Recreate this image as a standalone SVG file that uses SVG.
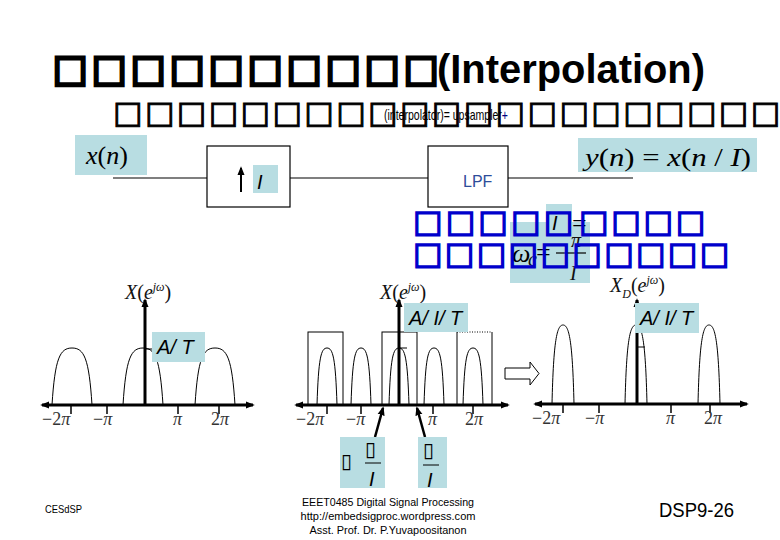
<svg xmlns="http://www.w3.org/2000/svg" width="780" height="540" viewBox="0 0 780 540">
<defs>
<style>
.tofuT{font-family:"DejaVu Sans",sans-serif;font-size:37px;fill:#000;stroke:#000;stroke-width:3}
.tofu2{font-family:"DejaVu Sans",sans-serif;font-size:31px;fill:#000;stroke:#000;stroke-width:1}
.tofuB{font-family:"DejaVu Sans",sans-serif;font-size:31px;fill:#0000cc;stroke:#0000cc;stroke-width:1.5}
.tofuS{font-family:"DejaVu Sans",sans-serif;font-size:20px;fill:#000}
.ln{stroke:#000;stroke-width:1.2;fill:none}
.ax{stroke:#000;stroke-width:3;fill:none}
.hump{stroke:#000;stroke-width:1;fill:none}
.tick{stroke:#000;stroke-width:1.5}
.eq{fill:#b8dde2}
.m{font-family:"Liberation Serif",serif;font-size:26px;fill:#000}
.ms{font-family:"Liberation Serif",serif;font-size:20px;fill:#111}
.tl{font-family:"Liberation Serif",serif;font-size:18px;fill:#333}
.it{font-style:italic}
.sa{font-family:"Liberation Sans",sans-serif;font-style:italic;font-size:20px;fill:#000}
.ft{font-family:"Liberation Sans",sans-serif;font-size:11.5px;fill:#000}
</style>
<marker id="ah" viewBox="0 0 10 10" refX="8" refY="5" markerWidth="9" markerHeight="9" markerUnits="userSpaceOnUse" orient="auto-start-reverse">
<path d="M0,1 L10,5 L0,9 z" fill="#000"/>
</marker>
</defs>
<rect width="780" height="540" fill="#fff"/>

<g id="title">
<text class="tofuT" x="53" y="81" textLength="386" lengthAdjust="spacing">□□□□□□□□□□</text>
<text x="437" y="83" font-family="Liberation Sans,sans-serif" font-weight="bold" font-size="40" textLength="268" lengthAdjust="spacingAndGlyphs">(Interpolation)</text>
</g>
<g id="subtitle">
<text class="tofu2" x="113" y="123" textLength="667" lengthAdjust="spacing">□□□□□□□□□□□□□□□□□□□□□</text>
<text x="384" y="120" font-family="Liberation Sans,sans-serif" font-size="15" fill="#000" textLength="124" lengthAdjust="spacingAndGlyphs">(interpolator)= upsampler<tspan fill="#000080">+</tspan></text>
</g>

<g id="connectors">
<line class="ln" x1="113" y1="178" x2="207" y2="178"/>
<line class="ln" x1="290" y1="178" x2="428" y2="178"/>
<line class="ln" x1="508" y1="178" x2="633" y2="178"/>
</g>

<g id="input">
<rect class="eq" x="75" y="135" width="72" height="40"/>
<text class="m" x="86" y="164"><tspan class="it">x</tspan>(<tspan class="it">n</tspan>)</text>
</g>
<g id="upsampler">
<rect x="207" y="146" width="83" height="61" fill="#fff" stroke="#000" stroke-width="1.2"/>
<line x1="241" y1="192" x2="241" y2="168" stroke="#000" stroke-width="2" marker-end="url(#ah)"/>
<rect class="eq" x="253" y="165" width="25" height="28"/>
<text class="sa" x="257" y="189" font-size="26">I</text>
</g>
<g id="lpf">
<rect x="428" y="146" width="80" height="61" fill="#fff" stroke="#000" stroke-width="1.2"/>
<text x="463" y="187" font-family="Liberation Sans,sans-serif" font-size="16" fill="#2d4d9a">LPF</text>
</g>
<g id="output">
<rect class="eq" x="578" y="138" width="179" height="34"/>
<text class="m" x="585" y="166" textLength="166" lengthAdjust="spacingAndGlyphs"><tspan class="it">y</tspan>(<tspan class="it">n</tspan>) = <tspan class="it">x</tspan>(<tspan class="it">n</tspan> / <tspan class="it">I</tspan>)</text>
</g>

<g id="cutoff">
<rect class="eq" x="510" y="222" width="80" height="61"/>
<text class="m it" x="512" y="262" font-size="26">ω</text>
<text class="ms it" x="528" y="266" font-size="13">c</text>
<text class="m" x="536" y="261" font-size="24">=</text>
<line x1="556" y1="253" x2="586" y2="253" stroke="#000" stroke-width="1.2"/>
<text class="ms it" x="571" y="247">π</text>
<text class="ms it" x="570" y="280" font-size="24">I</text>
<rect class="eq" x="546" y="204" width="26" height="30"/>
<text class="sa" x="552" y="230" font-size="24">I</text>
<text class="m" x="572" y="232" font-size="22">=</text>
<text class="tofuB" x="413" y="232" textLength="160" lengthAdjust="spacing">□□□□□</text>
<text class="tofuB" x="579" y="232" textLength="126" lengthAdjust="spacing">□□□□</text>
<text class="tofuB" x="413" y="264" textLength="316" lengthAdjust="spacing">□□□□□□□□□□</text>
</g>

<g id="spectrum1">
<line class="ax" x1="42" y1="405" x2="253" y2="405" marker-start="url(#ah)" marker-end="url(#ah)"/>
<line class="ax" x1="145" y1="405" x2="145" y2="300" marker-end="url(#ah)"/>
<path class="hump" d="M52,405 C55,358 60,348 72,348 S89,358 92,405"/>
<path class="hump" d="M123,405 C126,358 131,348 143,348 S160,358 163,405"/>
<path class="hump" d="M195,405 C198,358 203,348 215,348 S232,358 235,405"/>
<line class="tick" x1="71" y1="405" x2="71" y2="414"/>
<line class="tick" x1="107" y1="405" x2="107" y2="414"/>
<line class="tick" x1="178" y1="405" x2="178" y2="414"/>
<line class="tick" x1="219" y1="405" x2="219" y2="414"/>
<line x1="145" y1="349" x2="153" y2="349" stroke="#000" stroke-width="1"/>
<text class="tl" x="42" y="425">−2<tspan class="it">π</tspan></text>
<text class="tl" x="93" y="425">−<tspan class="it">π</tspan></text>
<text class="tl it" x="173" y="425">π</text>
<text class="tl" x="211" y="425">2<tspan class="it">π</tspan></text>
<text class="ms" x="125" y="299"><tspan class="it">X</tspan>(<tspan class="it">e</tspan><tspan class="it" font-size="12" dy="-8">jω</tspan><tspan dy="8">)</tspan></text>
<rect class="eq" x="152" y="332" width="53" height="30"/>
<text class="sa" x="157" y="354">A/ T</text>
</g>

<g id="spectrum2">
<rect x="308" y="332" width="35" height="73" fill="none" stroke="#000" stroke-width="1"/>
<rect x="382" y="332" width="35" height="73" fill="none" stroke="#000" stroke-width="1"/>
<path d="M457,405 V332 M492,332 V405" fill="none" stroke="#000" stroke-width="1"/>
<line x1="457" y1="332" x2="492" y2="332" stroke="#000" stroke-width="1" stroke-dasharray="1,1.5"/>
<line class="ax" x1="296" y1="405" x2="508" y2="405" marker-start="url(#ah)" marker-end="url(#ah)"/>
<line class="ax" x1="399" y1="405" x2="399" y2="300" marker-end="url(#ah)"/>
<path class="hump" d="M317,405 C318.5,358 321,348 327,348 S335.5,358 337,405"/>
<path class="hump" d="M351,405 C352.5,358 355,348 361,348 S369.5,358 371,405"/>
<path class="hump" d="M389,405 C390.5,358 393,348 399,348 S407.5,358 409,405"/>
<path class="hump" d="M424,405 C425.5,358 428,348 434,348 S442.5,358 444,405"/>
<path class="hump" d="M463,405 C464.5,358 467,348 473,348 S481.5,358 483,405"/>
<line class="tick" x1="327" y1="405" x2="327" y2="414"/>
<line class="tick" x1="361" y1="405" x2="361" y2="414"/>
<line class="tick" x1="433" y1="405" x2="433" y2="414"/>
<line class="tick" x1="473" y1="405" x2="473" y2="414"/>
<line x1="399" y1="348" x2="407" y2="348" stroke="#000" stroke-width="1"/>
<text class="tl" x="296" y="425">−2<tspan class="it">π</tspan></text>
<text class="tl" x="346" y="425">−<tspan class="it">π</tspan></text>
<text class="tl it" x="428" y="425">π</text>
<text class="tl" x="465" y="425">2<tspan class="it">π</tspan></text>
<text class="ms" x="380" y="299"><tspan class="it">X</tspan>(<tspan class="it">e</tspan><tspan class="it" font-size="12" dy="-8">jω</tspan><tspan dy="8">)</tspan></text>
<rect class="eq" x="404" y="303" width="64" height="29"/>
<text class="sa" x="409" y="325">A/ I/ T</text>
<line x1="375" y1="437" x2="383" y2="408" stroke="#000" stroke-width="2.5" marker-end="url(#ah)"/>
<line x1="425" y1="437" x2="417" y2="408" stroke="#000" stroke-width="2.5" marker-end="url(#ah)"/>
</g>

<g id="edge-neg">
<rect class="eq" x="340" y="437" width="45" height="51"/>
<text class="tofuS" x="341" y="468">▯</text>
<text class="tofuS it" x="365" y="456">▯</text>
<line x1="365" y1="463" x2="381" y2="463" stroke="#000" stroke-width="1"/>
<text class="sa" x="369" y="486">I</text>
</g>
<g id="edge-pos">
<rect class="eq" x="418" y="437" width="29" height="51"/>
<text class="tofuS it" x="423" y="457">▯</text>
<line x1="423" y1="465" x2="439" y2="465" stroke="#000" stroke-width="1"/>
<text class="sa" x="427" y="487">I</text>
</g>

<g id="arrow-big">
<polygon points="505,368 530,368 530,362 539,373.5 530,385 530,379 505,379" fill="#fff" stroke="#000" stroke-width="1"/>
</g>

<g id="spectrum3">
<line class="ax" x1="535" y1="404" x2="747" y2="404" marker-start="url(#ah)" marker-end="url(#ah)"/>
<line class="ax" x1="637" y1="404" x2="637" y2="300" marker-end="url(#ah)"/>
<path class="hump" d="M552,404 C553.5,340 557,325 563,325 S572.5,340 574,404"/>
<path class="hump" d="M625,404 C626.5,340 630,325 636,325 S645.5,340 647,404"/>
<path class="hump" d="M698,404 C699.5,340 703,325 709,325 S718.5,340 720,404"/>
<line class="tick" x1="563" y1="404" x2="563" y2="413"/>
<line class="tick" x1="599" y1="404" x2="599" y2="413"/>
<line class="tick" x1="671" y1="404" x2="671" y2="413"/>
<line class="tick" x1="710" y1="404" x2="710" y2="413"/>
<line x1="637" y1="347" x2="645" y2="347" stroke="#000" stroke-width="1"/>
<text class="tl" x="532" y="424">−2<tspan class="it">π</tspan></text>
<text class="tl" x="585" y="424">−<tspan class="it">π</tspan></text>
<text class="tl it" x="666" y="424">π</text>
<text class="tl" x="704" y="424">2<tspan class="it">π</tspan></text>
<text class="ms" x="610" y="292"><tspan class="it">X</tspan><tspan class="it" font-size="12" dy="6">D</tspan><tspan dy="-6">(</tspan><tspan class="it">e</tspan><tspan class="it" font-size="12" dy="-8">jω</tspan><tspan dy="8">)</tspan></text>
<rect class="eq" x="635" y="303" width="64" height="30"/>
<text class="sa" x="640" y="325">A/ I/ T</text>
</g>

<g id="footer">
<text class="ft" x="45" y="513" textLength="37" lengthAdjust="spacingAndGlyphs">CESdSP</text>
<text class="ft" x="388" y="506" text-anchor="middle" textLength="172" lengthAdjust="spacingAndGlyphs">EEET0485 Digital Signal Processing</text>
<text class="ft" x="388" y="520" text-anchor="middle" textLength="175" lengthAdjust="spacingAndGlyphs">http://embedsigproc.wordpress.com</text>
<text class="ft" x="388" y="534" text-anchor="middle" textLength="157" lengthAdjust="spacingAndGlyphs">Asst. Prof. Dr. P.Yuvapoositanon</text>
<text x="659" y="517" font-family="Liberation Sans,sans-serif" font-size="20" fill="#000" textLength="75" lengthAdjust="spacingAndGlyphs">DSP9-26</text>
</g>
</svg>
